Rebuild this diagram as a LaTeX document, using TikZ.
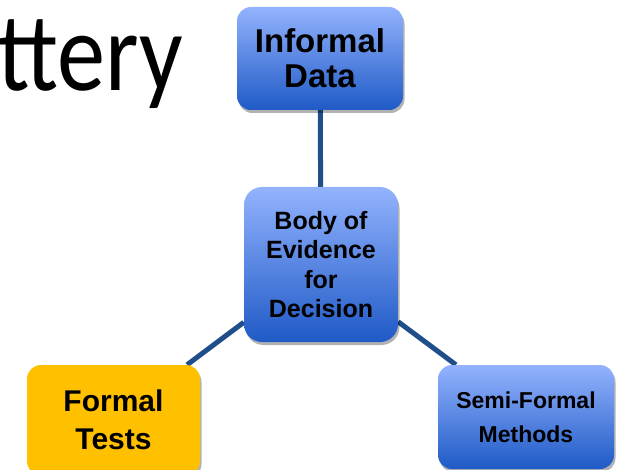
\documentclass[tikz,border=0pt]{standalone}
\usepackage{fontspec}
\setmainfont{Liberation Sans}
\newfontfamily\titlefont{Carlito}
\usetikzlibrary{shadows,backgrounds}
\definecolor{boxtop}{HTML}{93B3FE}
\definecolor{boxbot}{HTML}{1F5AC6}
\definecolor{linkblue}{HTML}{1F4E8A}
\definecolor{goldbox}{HTML}{FFC000}
\begin{document}
\begin{tikzpicture}[x=1pt,y=-1pt,
  blockbox/.style={rounded corners=14pt, draw=none, inner sep=0pt,
    align=center, font=\bfseries, text=black,
    drop shadow={shadow xshift=1.5pt, shadow yshift=-3pt, opacity=0.3, fill=black}},
  bluebox/.style={blockbox, top color=boxtop, bottom color=boxbot},
  goldblock/.style={blockbox, fill=goldbox},
  link/.style={draw=linkblue, line width=5pt}]
\clip (0,0) rectangle (618,470);
% partly visible title word
\node[anchor=base east, inner sep=0pt, font=\titlefont\fontsize{112}{120}\selectfont] (title) at (183,91) {\scalebox{0.86}[1]{ttery}};
% the four boxes
\node[bluebox, minimum width=166pt, minimum height=103pt,
      font=\bfseries\fontsize{33}{35}\selectfont] (informal) at (320,58.5) {Informal\\Data};
\node[bluebox, rounded corners=18pt, minimum width=154pt, minimum height=155pt,
      font=\bfseries\fontsize{25}{29.5}\selectfont] (body) at (321,264.5) {Body of\\Evidence\\for\\Decision};
\node[goldblock, minimum width=173pt, minimum height=110pt,
      font=\bfseries\fontsize{30}{38}\selectfont] (formal) at (113.5,420) {Formal\\Tests};
\node[bluebox, minimum width=176pt, minimum height=104pt,
      font=\bfseries\fontsize{23}{34}\selectfont] (semi) at (526,417) {Semi-Formal\\Methods};
% connectors behind the boxes
\begin{scope}[on background layer]
\draw[link] (informal) -- (body);
\draw[link] (body) -- (formal);
\draw[link] (body) -- (semi);
\end{scope}
\end{tikzpicture}
\end{document}
